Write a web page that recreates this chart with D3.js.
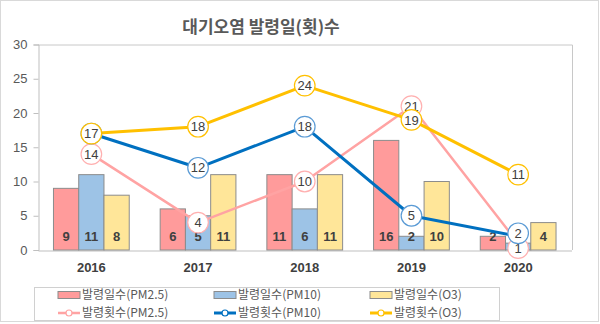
<!DOCTYPE html>
<html>
<head>
<meta charset="utf-8">
<script src="https://cdn.jsdelivr.net/npm/d3@7"></script>
<style>
  body { margin: 0; background: #fff; }
  svg { display: block; font-family: "Noto Sans CJK KR", "Noto Sans", sans-serif; }
</style>
</head>
<body>
<div id="chart"></div>
<script>
const years = ['2016', '2017', '2018', '2019', '2020'];
const daysPM25 = [9, 6, 11, 16, 2];
const daysPM10 = [11, 5, 6, 2, 1];
const daysO3 = [8, 11, 11, 10, 4];
const countPM25 = [14, 4, 10, 21, 1];
const countPM10 = [17, 12, 18, 5, 2];
const countO3 = [17, 18, 24, 19, 11];
const yTicks = [0, 5, 10, 15, 20, 25, 30];

const width = 600, height = 324;
const margin = {top: 44.5, right: 28, bottom: 74, left: 38};

const barSeries = [
  {key: 'd25', name: '발령일수(PM2.5)', values: daysPM25, fill: '#ff9b9b'},
  {key: 'd10', name: '발령일수(PM10)', values: daysPM10, fill: '#9dc3e6'},
  {key: 'do3', name: '발령일수(O3)', values: daysO3, fill: '#ffe699'}
];
const lineSeries = [
  {key: 'c25', name: '발령횟수(PM2.5)', values: countPM25, stroke: '#ffa3a3', ring: '#ffb0b0', w: 2.5, nudge: [0, 0, 0, 0, 5]},
  {key: 'c10', name: '발령횟수(PM10)', values: countPM10, stroke: '#0070c0', ring: '#5b9bd5', w: 3, nudge: [0, 0, 0, 0, -3]},
  {key: 'co3', name: '발령횟수(O3)', values: countO3, stroke: '#ffc000', ring: '#ffc000', w: 3, nudge: [0, 0, 0, 0, 0]}
];

const svg = d3.select('#chart').append('svg')
  .attr('width', width)
  .attr('height', height);

// outer frame
svg.append('rect')
  .attr('x', 0.5).attr('y', 0.5)
  .attr('width', width - 2).attr('height', height - 3)
  .attr('fill', '#fff')
  .attr('stroke', '#d9d9d9');

svg.append('text')
  .attr('x', 261).attr('y', 33)
  .attr('text-anchor', 'middle')
  .attr('font-size', 17).attr('font-weight', 'bold')
  .attr('fill', '#595959')
  .text('대기오염 발령일(횟)수');

let xScale = d3.scaleBand()
  .domain(years)
  .range([margin.left, width - margin.right - 0.5])
  .paddingInner(0.29)
  .paddingOuter(0.145);

let xSub = d3.scaleBand()
  .domain(barSeries.map(s => s.key))
  .range([0, xScale.bandwidth()]);

let yScale = d3.scaleLinear()
  .domain([0, 30])
  .range([height - margin.bottom, margin.top]);

const x0 = margin.left, x1 = width - margin.right;
const y0 = yScale(0), y1 = yScale(30);

// plot border
svg.append('path')
  .attr('d', `M${x0},${y1 + 0.5}H${x1 + 0.5}V${y0}`)
  .attr('fill', 'none')
  .attr('stroke', '#c8c8c8');

let yAxis = g => g
  .attr('transform', `translate(${x0 + 0.5},0)`)
  .call(d3.axisLeft(yScale).tickValues(yTicks).tickSize(5).tickPadding(6))
  .call(g => g.selectAll('.domain, line').attr('stroke', '#bfbfbf'))
  .call(g => g.selectAll('text').attr('fill', '#595959').attr('font-size', 13)
    .attr('font-family', 'Liberation Sans, Arial, sans-serif'));

let xAxis = g => g
  .attr('transform', `translate(0,${y0 + 0.5})`)
  .call(d3.axisBottom(xScale).tickSize(0).tickPadding(12))
  .call(g => g.select('.domain').attr('stroke', '#bfbfbf'))
  .call(g => g.selectAll('text').attr('fill', '#404040').attr('font-size', 13)
    .attr('font-weight', 'bold').attr('font-family', 'Liberation Sans, Arial, sans-serif'));

svg.append('g').call(yAxis);
svg.append('g').call(xAxis);

// bars
barSeries.forEach(s => {
  const g = svg.append('g');
  g.selectAll('rect')
    .data(s.values)
    .enter()
    .append('rect')
    .attr('x', (d, i) => xScale(years[i]) + xSub(s.key))
    .attr('y', d => yScale(d))
    .attr('width', xSub.bandwidth())
    .attr('height', d => yScale(0) - yScale(d))
    .attr('fill', s.fill)
    .attr('stroke', '#8c8c8c')
    .attr('stroke-width', 1);
  g.selectAll('text')
    .data(s.values)
    .enter()
    .append('text')
    .attr('x', (d, i) => xScale(years[i]) + xSub(s.key) + xSub.bandwidth() / 2)
    .attr('y', yScale(0) - 9)
    .attr('text-anchor', 'middle')
    .attr('font-size', 13).attr('font-weight', 'bold')
    .attr('font-family', 'Liberation Sans, Arial, sans-serif')
    .attr('fill', '#404040')
    .text(d => d);
});

const cx = (d, i) => xScale(years[i]) + xScale.bandwidth() / 2;

// lines
lineSeries.forEach(s => {
  svg.append('path')
    .datum(s.values)
    .attr('fill', 'none')
    .attr('stroke', s.stroke)
    .attr('stroke-width', s.w)
    .attr('stroke-linejoin', 'round')
    .attr('d', d3.line().x(cx).y(d => yScale(d)));
});

// label bubbles
lineSeries.forEach(s => {
  const g = svg.append('g');
  const lab = g.selectAll('g')
    .data(s.values)
    .enter()
    .append('g')
    .attr('transform', (d, i) => `translate(${cx(d, i)},${yScale(d) + s.nudge[i]})`);
  lab.append('circle')
    .attr('r', 10.3)
    .attr('fill', '#fff')
    .attr('stroke', s.ring)
    .attr('stroke-width', 1.2);
  lab.append('text')
    .attr('text-anchor', 'middle')
    .attr('dy', '0.36em')
    .attr('font-size', 13)
    .attr('font-family', 'Liberation Sans, Arial, sans-serif')
    .attr('fill', '#404040')
    .text(d => d);
});

// legend
const legend = svg.append('g');
legend.append('rect')
  .attr('x', 34.5).attr('y', 287.5)
  .attr('width', 465).attr('height', 33)
  .attr('fill', '#fff')
  .attr('stroke', '#d0d0d0');

const colX = [58, 214, 370];
const rowY = [295, 313];

barSeries.forEach((s, i) => {
  legend.append('rect')
    .attr('x', colX[i]).attr('y', rowY[0] - 3.5)
    .attr('width', 22).attr('height', 7)
    .attr('fill', s.fill)
    .attr('stroke', '#8c8c8c');
  legend.append('text')
    .attr('x', colX[i] + 24).attr('y', rowY[0])
    .attr('dy', '0.35em')
    .attr('font-size', 12)
    .attr('fill', '#595959')
    .text(s.name);
});

lineSeries.forEach((s, i) => {
  legend.append('line')
    .attr('x1', colX[i]).attr('x2', colX[i] + 22)
    .attr('y1', rowY[1]).attr('y2', rowY[1])
    .attr('stroke', s.stroke)
    .attr('stroke-width', s.w);
  legend.append('circle')
    .attr('cx', colX[i] + 11).attr('cy', rowY[1])
    .attr('r', 3)
    .attr('fill', '#fff')
    .attr('stroke', s.stroke)
    .attr('stroke-width', 1.2);
  legend.append('text')
    .attr('x', colX[i] + 24).attr('y', rowY[1])
    .attr('dy', '0.35em')
    .attr('font-size', 12)
    .attr('fill', '#595959')
    .text(s.name);
});
</script>
</body>
</html>
